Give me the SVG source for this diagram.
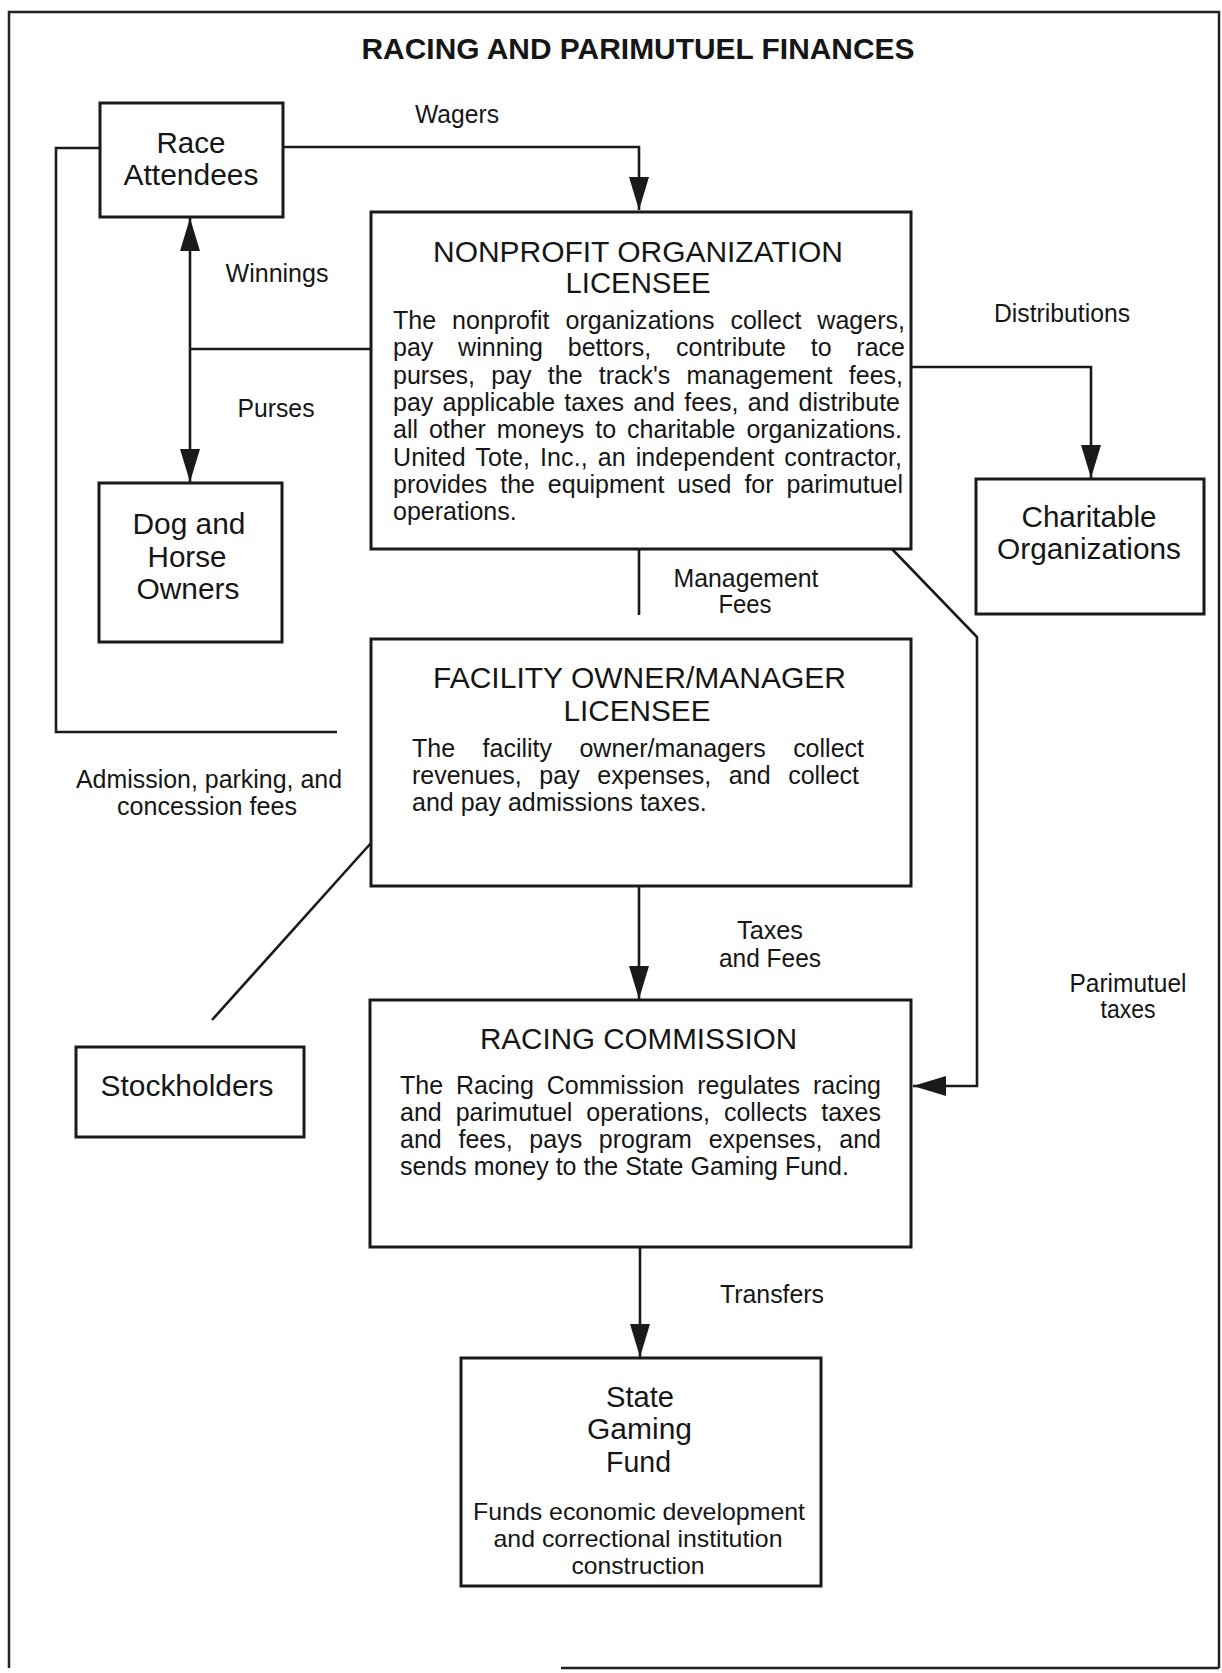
<svg xmlns="http://www.w3.org/2000/svg" width="1222" height="1673" viewBox="0 0 1222 1673">
<style>
text{font-family:"Liberation Sans",Arial,Helvetica,sans-serif;fill:#161616}
.t{font-size:30px;font-weight:bold;text-anchor:middle}
.n{font-size:30px;text-anchor:middle}
.h{font-size:30px;text-anchor:middle}
.b{font-size:25px}
.s{font-size:24px;text-anchor:middle}
.l{font-size:25px;text-anchor:middle}
.box{fill:#fff;stroke:#1a1a1a;stroke-width:3}
.c{fill:none;stroke:#1a1a1a;stroke-width:2.6}
.frame{fill:none;stroke:#222;stroke-width:2.5}
</style>
<defs>
<marker id="ah" markerUnits="userSpaceOnUse" markerWidth="34" markerHeight="20" refX="33" refY="10" orient="auto">
<path d="M0,0 L33,10 L0,20 Z" fill="#1a1a1a"/>
</marker>
</defs>
<rect width="1222" height="1673" fill="#fff"/>
<path class="frame" d="M9,1668 V12 H1219 V1668 M561,1668 H1219"/>
<text class="t" x="638" y="59" textLength="553" lengthAdjust="spacingAndGlyphs">RACING AND PARIMUTUEL FINANCES</text>

<g id="connectors">
<path class="c" d="M283,147 H639 V210" marker-end="url(#ah)"/>
<path class="c" d="M100,148 H56 V732 H337"/>
<path class="c" d="M190,349 V218" marker-end="url(#ah)"/>
<path class="c" d="M190,349 V482" marker-end="url(#ah)"/>
<path class="c" d="M190,349 H371"/>
<path class="c" d="M911,367 H1091 V478" marker-end="url(#ah)"/>
<path class="c" d="M639,549 V615"/>
<path class="c" d="M371,843 L212,1020"/>
<path class="c" d="M639,886 V999" marker-end="url(#ah)"/>
<path class="c" d="M892,549 L977,637 V1086 H913" marker-end="url(#ah)"/>
<path class="c" d="M640,1247 V1357" marker-end="url(#ah)"/>
</g>

<g id="labels">
<text class="l" x="457" y="123" textLength="84" lengthAdjust="spacingAndGlyphs">Wagers</text>
<text class="l" x="277" y="282" textLength="103" lengthAdjust="spacingAndGlyphs">Winnings</text>
<text class="l" x="276" y="417" textLength="77" lengthAdjust="spacingAndGlyphs">Purses</text>
<text class="l" x="1062" y="322" textLength="136" lengthAdjust="spacingAndGlyphs">Distributions</text>
<text class="l" x="746" y="587" textLength="145" lengthAdjust="spacingAndGlyphs">Management</text>
<text class="l" x="745" y="613" textLength="53" lengthAdjust="spacingAndGlyphs">Fees</text>
<text class="l" x="209" y="788" textLength="266" lengthAdjust="spacingAndGlyphs">Admission, parking, and</text>
<text class="l" x="207" y="815" textLength="180" lengthAdjust="spacingAndGlyphs">concession fees</text>
<text class="l" x="770" y="939" textLength="66" lengthAdjust="spacingAndGlyphs">Taxes</text>
<text class="l" x="770" y="967" textLength="102" lengthAdjust="spacingAndGlyphs">and Fees</text>
<text class="l" x="1128" y="992" textLength="117" lengthAdjust="spacingAndGlyphs">Parimutuel</text>
<text class="l" x="1128" y="1018" textLength="55" lengthAdjust="spacingAndGlyphs">taxes</text>
<text class="l" x="772" y="1303" textLength="104" lengthAdjust="spacingAndGlyphs">Transfers</text>
</g>

<g id="race-attendees">
<rect class="box" x="100" y="103" width="183" height="114"/>
<text class="n" x="191" y="153" textLength="69" lengthAdjust="spacingAndGlyphs">Race</text>
<text class="n" x="191" y="185" textLength="135" lengthAdjust="spacingAndGlyphs">Attendees</text>
</g>

<g id="dog-horse-owners">
<rect class="box" x="99" y="483" width="183" height="159"/>
<text class="n" x="189" y="534" textLength="113" lengthAdjust="spacingAndGlyphs">Dog and</text>
<text class="n" x="187" y="567" textLength="79" lengthAdjust="spacingAndGlyphs">Horse</text>
<text class="n" x="188" y="599" textLength="103" lengthAdjust="spacingAndGlyphs">Owners</text>
</g>

<g id="nonprofit">
<rect class="box" x="371" y="212" width="540" height="337"/>
<text class="h" x="638" y="262" textLength="410" lengthAdjust="spacingAndGlyphs">NONPROFIT ORGANIZATION</text>
<text class="h" x="638" y="293" textLength="145" lengthAdjust="spacingAndGlyphs">LICENSEE</text>
<text class="b" x="393" y="329" word-spacing="9" textLength="512" lengthAdjust="spacing">The nonprofit organizations collect wagers,</text>
<text class="b" x="393" y="356.3" word-spacing="17.7" textLength="512" lengthAdjust="spacing">pay winning bettors, contribute to race</text>
<text class="b" x="393" y="383.6" word-spacing="9.3" textLength="510" lengthAdjust="spacing">purses, pay the track's management fees,</text>
<text class="b" x="393" y="410.9" word-spacing="2.3" textLength="507" lengthAdjust="spacing">pay applicable taxes and fees, and distribute</text>
<text class="b" x="393" y="438.2" word-spacing="4" textLength="509" lengthAdjust="spacing">all other moneys to charitable organizations.</text>
<text class="b" x="393" y="465.5" word-spacing="2.9" textLength="509" lengthAdjust="spacing">United Tote, Inc., an independent contractor,</text>
<text class="b" x="393" y="492.8" word-spacing="6" textLength="510" lengthAdjust="spacing">provides the equipment used for parimutuel</text>
<text class="b" x="393" y="520.1">operations.</text>
</g>

<g id="charitable">
<rect class="box" x="976" y="479" width="228" height="135"/>
<text class="n" x="1089" y="527" textLength="135" lengthAdjust="spacingAndGlyphs">Charitable</text>
<text class="n" x="1089" y="559" textLength="184" lengthAdjust="spacingAndGlyphs">Organizations</text>
</g>

<g id="facility">
<rect class="box" x="371" y="639" width="540" height="247"/>
<text class="h" x="639.5" y="688" textLength="413" lengthAdjust="spacingAndGlyphs">FACILITY OWNER/MANAGER</text>
<text class="h" x="637" y="721" textLength="147" lengthAdjust="spacingAndGlyphs">LICENSEE</text>
<text class="b" x="412" y="757" word-spacing="20.5" textLength="452" lengthAdjust="spacing">The facility owner/managers collect</text>
<text class="b" x="412" y="784" word-spacing="10.7" textLength="447" lengthAdjust="spacing">revenues, pay expenses, and collect</text>
<text class="b" x="412" y="811">and pay admissions taxes.</text>
</g>

<g id="stockholders">
<rect class="box" x="76" y="1047" width="228" height="90"/>
<text class="n" x="187" y="1096" textLength="173" lengthAdjust="spacingAndGlyphs">Stockholders</text>
</g>

<g id="racing-commission">
<rect class="box" x="370" y="1000" width="541" height="247"/>
<text class="h" x="638.5" y="1049" textLength="317" lengthAdjust="spacingAndGlyphs">RACING COMMISSION</text>
<text class="b" x="400" y="1094" word-spacing="6" textLength="481" lengthAdjust="spacing">The Racing Commission regulates racing</text>
<text class="b" x="400" y="1121" word-spacing="7" textLength="481" lengthAdjust="spacing">and parimutuel operations, collects taxes</text>
<text class="b" x="400" y="1148" word-spacing="9.8" textLength="481" lengthAdjust="spacing">and fees, pays program expenses, and</text>
<text class="b" x="400" y="1175">sends money to the State Gaming Fund.</text>
</g>

<g id="state-gaming-fund">
<rect class="box" x="461" y="1358" width="360" height="228"/>
<text class="n" x="640" y="1407" textLength="68" lengthAdjust="spacingAndGlyphs">State</text>
<text class="n" x="639.5" y="1439" textLength="105" lengthAdjust="spacingAndGlyphs">Gaming</text>
<text class="n" x="638.5" y="1472" textLength="65" lengthAdjust="spacingAndGlyphs">Fund</text>
<text class="s" x="639" y="1520" textLength="332" lengthAdjust="spacingAndGlyphs">Funds economic development</text>
<text class="s" x="638" y="1547" textLength="289" lengthAdjust="spacingAndGlyphs">and correctional institution</text>
<text class="s" x="638" y="1574" textLength="133" lengthAdjust="spacingAndGlyphs">construction</text>
</g>
</svg>
